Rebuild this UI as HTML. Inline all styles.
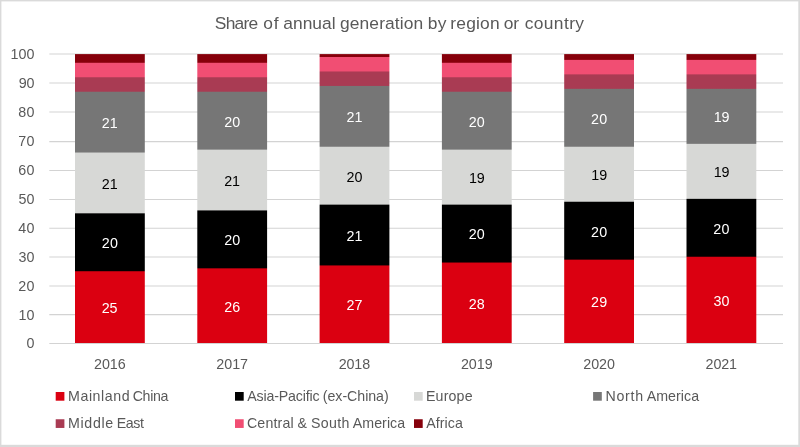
<!DOCTYPE html>
<html lang="en">
<head>
<meta charset="utf-8">
<title>Share of annual generation by region or country</title>
<style>
html,body{margin:0;padding:0;background:#ffffff;}
body{width:800px;height:447px;overflow:hidden;font-family:"Liberation Sans",Arial,sans-serif;}
svg text{white-space:pre;}
</style>
</head>
<body>
<svg width="800" height="447" viewBox="0 0 800 447" font-family="'Liberation Sans', Arial, sans-serif" style="display:block">
<rect x="0" y="0" width="800" height="447" fill="#ffffff"/>
<g fill="#DADADA"><rect x="0" y="0" width="800" height="1.4"/><rect x="0" y="0" width="1.4" height="447"/><rect x="798.3" y="0" width="1.7" height="447"/><rect x="0" y="444.8" width="800" height="2.2"/></g>
<g stroke="#D3D3D3" stroke-width="1.1"><line x1="49.3" y1="343.50" x2="783.0" y2="343.50"/><line x1="49.3" y1="314.67" x2="783.0" y2="314.67"/><line x1="49.3" y1="285.95" x2="783.0" y2="285.95"/><line x1="49.3" y1="257.03" x2="783.0" y2="257.03"/><line x1="49.3" y1="228.20" x2="783.0" y2="228.20"/><line x1="49.3" y1="199.47" x2="783.0" y2="199.47"/><line x1="49.3" y1="170.53" x2="783.0" y2="170.53"/><line x1="49.3" y1="141.60" x2="783.0" y2="141.60"/><line x1="49.3" y1="112.00" x2="783.0" y2="112.00"/><line x1="49.3" y1="83.00" x2="783.0" y2="83.00"/><line x1="49.3" y1="54.05" x2="783.0" y2="54.05"/></g>
<defs><linearGradient id="g0" gradientUnits="userSpaceOnUse" x1="0" y1="54.10" x2="0" y2="343.00"><stop offset="0.00000" stop-color="#86000B"/><stop offset="0.02833" stop-color="#86000B"/><stop offset="0.03179" stop-color="#F14E73"/><stop offset="0.07844" stop-color="#F14E73"/><stop offset="0.08190" stop-color="#A93B53"/><stop offset="0.12854" stop-color="#A93B53"/><stop offset="0.13200" stop-color="#767676"/><stop offset="0.33898" stop-color="#767676"/><stop offset="0.34244" stop-color="#D7D8D6"/><stop offset="0.54941" stop-color="#D7D8D6"/><stop offset="0.55287" stop-color="#000000"/><stop offset="0.74983" stop-color="#000000"/><stop offset="0.75329" stop-color="#DB0011"/><stop offset="1.00000" stop-color="#DB0011"/></linearGradient>
<linearGradient id="g1" gradientUnits="userSpaceOnUse" x1="0" y1="54.10" x2="0" y2="343.00"><stop offset="0.00000" stop-color="#86000B"/><stop offset="0.02833" stop-color="#86000B"/><stop offset="0.03179" stop-color="#F14E73"/><stop offset="0.07844" stop-color="#F14E73"/><stop offset="0.08190" stop-color="#A93B53"/><stop offset="0.12854" stop-color="#A93B53"/><stop offset="0.13200" stop-color="#767676"/><stop offset="0.32895" stop-color="#767676"/><stop offset="0.33242" stop-color="#D7D8D6"/><stop offset="0.53939" stop-color="#D7D8D6"/><stop offset="0.54285" stop-color="#000000"/><stop offset="0.73981" stop-color="#000000"/><stop offset="0.74327" stop-color="#DB0011"/><stop offset="1.00000" stop-color="#DB0011"/></linearGradient>
<linearGradient id="g2" gradientUnits="userSpaceOnUse" x1="0" y1="54.10" x2="0" y2="343.00"><stop offset="0.00000" stop-color="#86000B"/><stop offset="0.00829" stop-color="#86000B"/><stop offset="0.01175" stop-color="#F14E73"/><stop offset="0.05839" stop-color="#F14E73"/><stop offset="0.06186" stop-color="#A93B53"/><stop offset="0.10850" stop-color="#A93B53"/><stop offset="0.11196" stop-color="#767676"/><stop offset="0.31893" stop-color="#767676"/><stop offset="0.32240" stop-color="#D7D8D6"/><stop offset="0.51935" stop-color="#D7D8D6"/><stop offset="0.52281" stop-color="#000000"/><stop offset="0.72979" stop-color="#000000"/><stop offset="0.73325" stop-color="#DB0011"/><stop offset="1.00000" stop-color="#DB0011"/></linearGradient>
<linearGradient id="g3" gradientUnits="userSpaceOnUse" x1="0" y1="54.10" x2="0" y2="343.00"><stop offset="0.00000" stop-color="#86000B"/><stop offset="0.02833" stop-color="#86000B"/><stop offset="0.03179" stop-color="#F14E73"/><stop offset="0.07844" stop-color="#F14E73"/><stop offset="0.08190" stop-color="#A93B53"/><stop offset="0.12854" stop-color="#A93B53"/><stop offset="0.13200" stop-color="#767676"/><stop offset="0.32895" stop-color="#767676"/><stop offset="0.33242" stop-color="#D7D8D6"/><stop offset="0.51935" stop-color="#D7D8D6"/><stop offset="0.52281" stop-color="#000000"/><stop offset="0.71976" stop-color="#000000"/><stop offset="0.72323" stop-color="#DB0011"/><stop offset="1.00000" stop-color="#DB0011"/></linearGradient>
<linearGradient id="g4" gradientUnits="userSpaceOnUse" x1="0" y1="54.10" x2="0" y2="343.00"><stop offset="0.00000" stop-color="#86000B"/><stop offset="0.01831" stop-color="#86000B"/><stop offset="0.02177" stop-color="#F14E73"/><stop offset="0.06841" stop-color="#F14E73"/><stop offset="0.07188" stop-color="#A93B53"/><stop offset="0.11852" stop-color="#A93B53"/><stop offset="0.12198" stop-color="#767676"/><stop offset="0.31893" stop-color="#767676"/><stop offset="0.32240" stop-color="#D7D8D6"/><stop offset="0.50933" stop-color="#D7D8D6"/><stop offset="0.51279" stop-color="#000000"/><stop offset="0.70974" stop-color="#000000"/><stop offset="0.71321" stop-color="#DB0011"/><stop offset="1.00000" stop-color="#DB0011"/></linearGradient>
<linearGradient id="g5" gradientUnits="userSpaceOnUse" x1="0" y1="54.10" x2="0" y2="343.00"><stop offset="0.00000" stop-color="#86000B"/><stop offset="0.01831" stop-color="#86000B"/><stop offset="0.02177" stop-color="#F14E73"/><stop offset="0.06841" stop-color="#F14E73"/><stop offset="0.07188" stop-color="#A93B53"/><stop offset="0.11852" stop-color="#A93B53"/><stop offset="0.12198" stop-color="#767676"/><stop offset="0.30891" stop-color="#767676"/><stop offset="0.31237" stop-color="#D7D8D6"/><stop offset="0.49931" stop-color="#D7D8D6"/><stop offset="0.50277" stop-color="#000000"/><stop offset="0.69972" stop-color="#000000"/><stop offset="0.70318" stop-color="#DB0011"/><stop offset="1.00000" stop-color="#DB0011"/></linearGradient></defs>
<g><rect x="75.00" y="54.10" width="69.80" height="288.90" fill="url(#g0)"/>
<rect x="197.30" y="54.10" width="69.80" height="288.90" fill="url(#g1)"/>
<rect x="319.60" y="54.10" width="69.80" height="288.90" fill="url(#g2)"/>
<rect x="441.90" y="54.10" width="69.80" height="288.90" fill="url(#g3)"/>
<rect x="564.20" y="54.10" width="69.80" height="288.90" fill="url(#g4)"/>
<rect x="686.50" y="54.10" width="69.80" height="288.90" fill="url(#g5)"/></g>
<g><text x="101.84 109.47" y="313.26" font-size="14.30" fill="#ffffff">25</text>
<text x="101.84 109.95" y="248.13" font-size="14.30" fill="#ffffff">20</text>
<text x="101.84 109.79" y="188.78" font-size="14.30" fill="#000000">21</text>
<text x="101.84 109.79" y="127.98" font-size="14.30" fill="#ffffff">21</text>
<text x="224.14 232.18" y="311.82" font-size="14.30" fill="#ffffff">26</text>
<text x="224.14 232.25" y="245.23" font-size="14.30" fill="#ffffff">20</text>
<text x="224.14 232.09" y="185.88" font-size="14.30" fill="#000000">21</text>
<text x="224.14 232.25" y="126.54" font-size="14.30" fill="#ffffff">20</text>
<text x="346.44 354.61" y="310.37" font-size="14.30" fill="#ffffff">27</text>
<text x="346.44 354.39" y="240.89" font-size="14.30" fill="#ffffff">21</text>
<text x="346.44 354.55" y="181.54" font-size="14.30" fill="#000000">20</text>
<text x="346.44 354.39" y="122.19" font-size="14.30" fill="#ffffff">21</text>
<text x="468.74 476.69" y="308.92" font-size="14.30" fill="#ffffff">28</text>
<text x="468.74 476.85" y="239.44" font-size="14.30" fill="#ffffff">20</text>
<text x="469.03 476.84" y="182.99" font-size="14.30" fill="#000000">19</text>
<text x="468.74 476.85" y="126.54" font-size="14.30" fill="#ffffff">20</text>
<text x="591.04 599.14" y="307.47" font-size="14.30" fill="#ffffff">29</text>
<text x="591.04 599.15" y="236.55" font-size="14.30" fill="#ffffff">20</text>
<text x="591.33 599.14" y="180.09" font-size="14.30" fill="#000000">19</text>
<text x="591.04 599.15" y="123.64" font-size="14.30" fill="#ffffff">20</text>
<text x="713.53 721.45" y="306.03" font-size="14.30" fill="#ffffff">30</text>
<text x="713.34 721.45" y="233.65" font-size="14.30" fill="#ffffff">20</text>
<text x="713.63 721.44" y="177.20" font-size="14.30" fill="#000000">19</text>
<text x="713.63 721.44" y="122.19" font-size="14.30" fill="#ffffff">19</text></g>
<g><text x="94.03 101.92 109.80 117.69" y="368.70" font-size="14.30" fill="#595959">2016</text>
<text x="216.33 224.26 232.19 240.12" y="368.70" font-size="14.30" fill="#595959">2017</text>
<text x="338.63 346.48 354.34 362.20" y="368.70" font-size="14.30" fill="#595959">2018</text>
<text x="460.93 468.83 476.74 484.65" y="368.70" font-size="14.30" fill="#595959">2019</text>
<text x="583.23 591.14 599.05 606.96" y="368.70" font-size="14.30" fill="#595959">2020</text>
<text x="705.53 713.38 721.24 729.10" y="368.70" font-size="14.30" fill="#595959">2021</text></g>
<g><text x="26.39" y="348.45" font-size="14.30" fill="#595959">0</text>
<text x="18.57 26.59" y="319.50" font-size="14.30" fill="#595959">10</text>
<text x="18.28 26.59" y="290.55" font-size="14.30" fill="#595959">20</text>
<text x="18.48 26.59" y="261.60" font-size="14.30" fill="#595959">30</text>
<text x="18.23 26.59" y="232.65" font-size="14.30" fill="#595959">40</text>
<text x="18.43 26.59" y="203.70" font-size="14.30" fill="#595959">50</text>
<text x="18.27 26.59" y="174.75" font-size="14.30" fill="#595959">60</text>
<text x="18.31 26.59" y="145.80" font-size="14.30" fill="#595959">70</text>
<text x="18.30 26.59" y="116.85" font-size="14.30" fill="#595959">80</text>
<text x="18.63 26.59" y="87.90" font-size="14.30" fill="#595959">90</text>
<text x="10.51 18.55 26.59" y="58.95" font-size="14.30" fill="#595959">100</text></g>
<text x="214.81 225.67 234.61 243.54 248.60 257.53 263.27 273.64 279.18 283.26 292.95 302.64 312.32 322.01 331.70 335.57 339.97 349.76 359.55 369.34 379.13 385.04 394.83 399.78 403.76 413.55 423.34 427.78 437.83 446.91 450.34 456.32 466.18 476.04 480.09 489.95 499.81 503.67 513.24 518.94 524.66 533.75 543.81 553.87 563.93 569.15 575.33" y="29.15" font-size="17.40" fill="#595959">Share of annual generation by region or country</text>
<g><rect x="55.70" y="392.00" width="8.70" height="8.70" fill="#DB0011"/>
<text x="68.04 80.43 88.89 92.61 101.07 104.79 113.26 121.72 130.18 132.68 142.61 150.19 153.03 160.60" y="400.60" font-size="14.20" fill="#595959">Mainland China</text>
<rect x="235.00" y="392.00" width="8.70" height="8.70" fill="#000000"/>
<text x="247.17 256.49 263.44 266.44 274.19 278.76 288.08 295.83 302.78 305.78 309.57 312.57 319.52 322.82 327.50 335.35 342.40 347.09 357.29 365.14 368.25 376.10 383.95" y="400.60" font-size="14.20" fill="#595959">Asia-Pacific (ex-China)</text>
<rect x="414.00" y="392.00" width="8.70" height="8.70" fill="#D7D8D6"/>
<text x="425.94 435.57 443.63 448.52 456.57 464.63" y="400.60" font-size="14.20" fill="#595959">Europe</text>
<rect x="593.10" y="392.00" width="8.70" height="8.70" fill="#767676"/>
<text x="605.57 616.52 625.12 630.55 635.19 643.79 646.67 656.20 668.09 676.04 680.83 684.04 691.20" y="400.60" font-size="14.20" fill="#595959">North America</text>
<rect x="55.70" y="419.25" width="8.70" height="8.70" fill="#A93B53"/>
<text x="68.04 80.52 84.32 92.88 101.43 105.23 113.78 116.74 125.79 133.27 139.96" y="427.50" font-size="14.20" fill="#595959">Middle East</text>
<rect x="235.00" y="419.25" width="8.70" height="8.70" fill="#F14E73"/>
<text x="246.88 257.32 265.40 273.48 277.60 282.52 290.60 293.93 297.60 307.07 310.96 320.74 328.95 337.16 341.42 349.64 352.77 362.29 374.17 382.12 386.90 390.10 397.25" y="427.50" font-size="14.20" fill="#595959">Central &amp; South America</text>
<rect x="414.00" y="419.25" width="8.70" height="8.70" fill="#86000B"/>
<text x="426.27 435.81 439.82 444.62 447.84 455.00" y="427.50" font-size="14.20" fill="#595959">Africa</text></g>
</svg>
</body>
</html>
